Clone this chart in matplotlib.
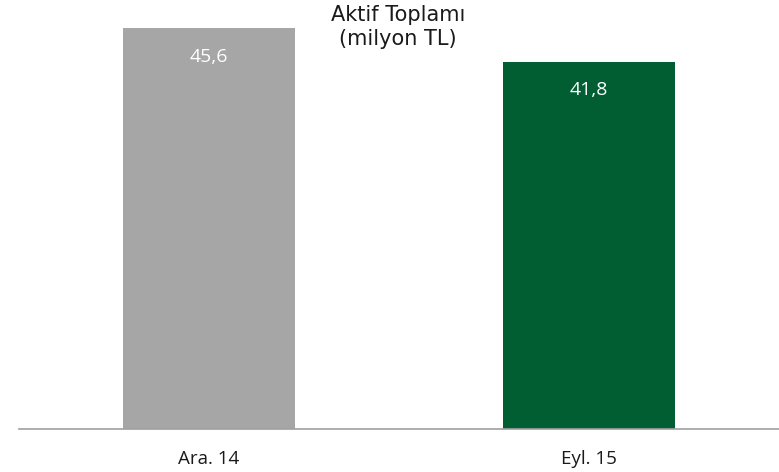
import numpy as np
import matplotlib.pyplot as plt

# veriler
kategoriler = ['Ara. 14', 'Eyl. 15']
degerler = [45.6, 41.8]
etiketler = ['45,6', '41,8']
renkler = ['#a6a6a6', '#005e32']

fig = plt.figure(figsize=(7.79, 4.72), dpi=100)
ax = fig.add_axes([19/779, 1 - 429/472, 760/779, 429/472])

x = np.arange(len(kategoriler))
bars = ax.bar(x, degerler, width=0.455, color=renkler, zorder=2)

ax.set_xlim(-0.5, 1.5)
ax.set_ylim(0, 429/8.79)

for s in ['top', 'right', 'left']:
    ax.spines[s].set_visible(False)
ax.spines['bottom'].set_color('#a0a0a0')
ax.spines['bottom'].set_linewidth(1.2)
ax.set_yticks([])
ax.set_xticks(x)
ax.set_xticklabels(kategoriler, fontsize=13.5, family='Open Sans', color='#1a1a1a')
ax.tick_params(axis='x', length=0, pad=15)

# değer etiketleri, çubuğun içinde
for b, lab in zip(bars, etiketler):
    ax.annotate(lab, (b.get_x() + b.get_width()/2, b.get_height()),
                xytext=(0, -20.5), textcoords='offset points',
                ha='center', va='center', color='white', fontsize=14,
                family='Open Sans')

fig.text(398/779, 1 - 27/472, 'Aktif Toplamı\n(milyon TL)', ha='center', va='center',
         fontsize=15, linespacing=1.2, color='#1a1a1a', family='DejaVu Sans')

fig.savefig('out.png', dpi=100)
